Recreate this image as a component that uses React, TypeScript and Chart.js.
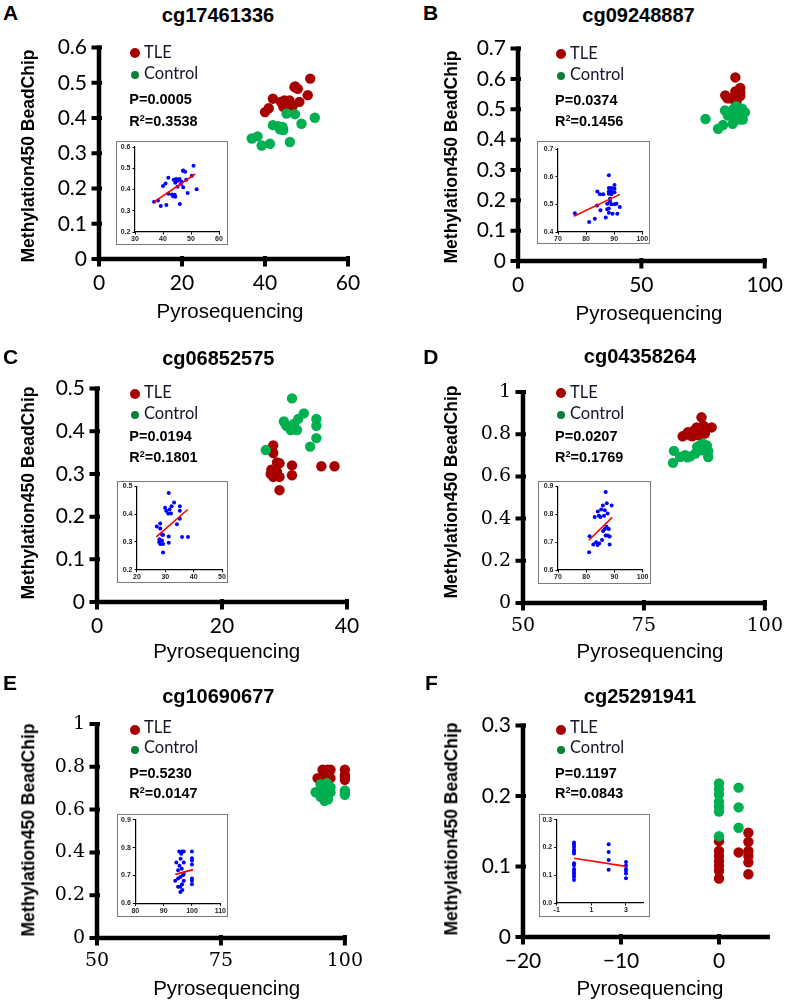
import React, { useEffect, useRef } from "react";
import { Chart, registerables } from "chart.js";

Chart.register(...registerables);

type Pt = [number, number];

// ---------- text content ----------
const letters = ["A", "B", "C", "D", "E", "F"];
const titles = ["cg17461336", "cg09248887", "cg06852575", "cg04358264", "cg10690677", "cg25291941"];
const pValues = ["0.0005", "0.0374", "0.0194", "0.0207", "0.5230", "0.1197"];
const r2Values = ["0.3538", "0.1456", "0.1801", "0.1769", "0.0147", "0.0843"];
const seriesNames = ["TLE", "Control"];
const xAxisTitle = "Pyrosequencing";
const yAxisTitle = "Methylation450 BeadChip";

// ---------- Panel A ----------
const tleA: Pt[] = [[40.0,0.417],[40.9,0.428],[41.9,0.455],[43.8,0.446],[44.4,0.432],[44.7,0.45],[45.3,0.441],[45.9,0.45],[46.4,0.426],[46.7,0.436],[47.1,0.488],[47.3,0.49],[47.9,0.483],[48.3,0.446],[50.3,0.465],[50.9,0.512]];
const ctlA: Pt[] = [[36.8,0.342],[38.2,0.348],[39.2,0.322],[41.2,0.327],[41.9,0.38],[43.2,0.377],[44.2,0.375],[44.4,0.366],[43.6,0.368],[45.2,0.413],[47.2,0.411],[46.0,0.332],[48.8,0.384],[52.0,0.401]];
const fitA: Pt[] = [[36.7,0.341],[51.5,0.473]];
const xTicksA = [0, 20, 40, 60];
const yTicksA = [0, 0.1, 0.2, 0.3, 0.4, 0.5, 0.6];
const xRangeA = [0, 60];
const yRangeA = [0, 0.6];
const insetXTicksA = [30, 40, 50, 60];
const insetYTicksA = [0.2, 0.3, 0.4, 0.5, 0.6];

// ---------- Panel B ----------
const tleB: Pt[] = [[84.0,0.546],[84.9,0.536],[86.1,0.536],[88.1,0.605],[88.1,0.559],[88.1,0.546],[88.1,0.538],[89.0,0.559],[89.0,0.546],[89.0,0.536],[90.1,0.57],[90.1,0.556],[90.1,0.544],[88.5,0.52]];
const ctlB: Pt[] = [[76.0,0.468],[81.1,0.436],[83.1,0.448],[85.1,0.479],[83.9,0.496],[87.0,0.452],[87.5,0.502],[89.0,0.5],[88.1,0.485],[88.1,0.47],[89.4,0.466],[90.1,0.5],[90.8,0.502],[91.1,0.466],[92.0,0.49],[87.5,0.482],[88.5,0.51]];
const fitB: Pt[] = [[75.6,0.457],[92.0,0.536]];
const xTicksB = [0, 50, 100];
const yTicksB = [0, 0.1, 0.2, 0.3, 0.4, 0.5, 0.6, 0.7];
const xRangeB = [0, 100];
const yRangeB = [0, 0.7];
const insetXTicksB = [70, 80, 90, 100];
const insetYTicksB = [0.4, 0.5, 0.6, 0.7];

// ---------- Panel C ----------
const tleC: Pt[] = [[28.2,0.367],[28.2,0.349],[27.9,0.31],[28.8,0.327],[29.2,0.325],[28.2,0.293],[29.2,0.293],[29.2,0.262],[31.2,0.32],[31.2,0.297],[27.8,0.3],[28.8,0.305],[35.9,0.318],[38.0,0.318]];
const ctlC: Pt[] = [[31.2,0.477],[29.9,0.423],[30.3,0.413],[31.0,0.403],[32.0,0.403],[32.2,0.429],[33.1,0.442],[35.1,0.429],[35.1,0.413],[35.1,0.384],[34.1,0.364],[27.0,0.356],[31.5,0.417]];
const fitC: Pt[] = [[26.8,0.318],[37.9,0.417]];
const xTicksC = [0, 20, 40];
const yTicksC = [0, 0.1, 0.2, 0.3, 0.4, 0.5];
const xRangeC = [0, 40];
const yRangeC = [0, 0.5];
const insetXTicksC = [20, 30, 40, 50];
const insetYTicksC = [0.2, 0.3, 0.4, 0.5];

// ---------- Panel D ----------
const tleD: Pt[] = [[83.0,0.79],[84.1,0.81],[85.3,0.817],[85.9,0.832],[86.9,0.88],[87.3,0.84],[89.0,0.832],[86.3,0.795],[85.0,0.79],[87.6,0.803],[84.5,0.795],[86.6,0.815]];
const ctlD: Pt[] = [[81.2,0.721],[81.0,0.664],[82.5,0.692],[83.5,0.7],[84.6,0.695],[85.6,0.708],[86.6,0.747],[88.0,0.747],[88.3,0.692],[87.6,0.724],[86.9,0.724],[86.0,0.74],[88.3,0.72],[84.0,0.69],[87.2,0.755]];
const fitD: Pt[] = [[80.9,0.707],[89.2,0.789]];
const xTicksD = [50, 75, 100];
const yTicksD = [0, 0.2, 0.4, 0.6, 0.8, 1];
const xRangeD = [50, 100];
const yRangeD = [0, 1];
const insetXTicksD = [70, 80, 90, 100];
const insetYTicksD = [0.6, 0.7, 0.8, 0.9];

// ---------- Panel E ----------
const tleE: Pt[] = [[95.5,0.786],[96.5,0.786],[97.1,0.786],[96.2,0.778],[94.5,0.747],[95.6,0.735],[97.1,0.747],[100,0.786],[100,0.762],[100,0.754],[100,0.739],[96.0,0.76]];
const ctlE: Pt[] = [[95.1,0.719],[96.4,0.724],[97.1,0.705],[94.1,0.681],[95.1,0.689],[95.9,0.695],[96.8,0.701],[97.1,0.681],[95.1,0.66],[95.9,0.66],[96.5,0.669],[95.9,0.641],[96.6,0.648],[100,0.689],[100,0.681],[100,0.669]];
const fitE: Pt[] = [[94.1,0.704],[100.4,0.721]];
const xTicksE = [50, 75, 100];
const yTicksE = [0, 0.2, 0.4, 0.6, 0.8, 1];
const xRangeE = [50, 100];
const yRangeE = [0, 1];
const insetXTicksE = [80, 90, 100, 110];
const insetYTicksE = [0.6, 0.7, 0.8, 0.9];

// ---------- Panel F ----------
const tleF: Pt[] = [[0,0.136],[0,0.122],[0,0.115],[0,0.108],[0,0.101],[0,0.094],[0,0.083],[2,0.12],[3,0.148],[3,0.135],[3,0.122],[3,0.115],[3,0.106],[3,0.089]];
const ctlF: Pt[] = [[0,0.218],[0,0.21],[0,0.202],[0,0.192],[0,0.185],[0,0.178],[0,0.143],[2,0.212],[2,0.184],[2,0.155]];
const fitF: Pt[] = [[0.0,0.161],[3.0,0.132]];
const xTicksF = [-20, -10, 0];
const yTicksF = [0, 0.1, 0.2, 0.3];
const xRangeF = [-20, 5];
const yRangeF = [0, 0.3];
const insetXTicksF = [-1, 1, 3];
const insetYTicksF = [0.0, 0.1, 0.2, 0.3];
const insetXRangeF = [-1, 4];

// ---------- styles ----------
const RED = "#A80000";
const GREEN = "#00B050";
const LEGEND_GREEN = "#0A7F36";
const BLUE = "#0000FF";
const FIT_RED = "#FF0000";
const ARIAL = "'Liberation Sans', Arial, sans-serif";
const LATO = "Lato, sans-serif";
const SERIF = "'DejaVu Serif', 'Liberation Serif', serif";

interface Layout {
  main: number[]; // L,T,R,B of plot area
  box: number[]; // inset box x,y,w,h
  inner: number[]; // inset plot area L,T,R,B
  letter: number[];
  title: number[];
  legend: number[]; // dotX, tleY, ctlY, textX, tleBase, ctlBase
  stats: number[]; // x, pBase, rBase
  xTitle: number[];
  yTitle: number[];
  serif: boolean;
}

const layouts: Layout[] = [
  { main: [99, 47, 348, 259], box: [116, 141, 112, 104], inner: [135, 147, 219, 232], letter: [3, 20], title: [218, 21.7],
    legend: [135, 53, 75, 144, 58.3, 80], stats: [129.3, 104, 126], xTitle: [230, 318], yTitle: [28.5, 156], serif: false },
  { main: [518, 48, 767, 261], box: [536.7, 141, 113.3, 103.3], inner: [557.7, 149, 642.3, 232.3], letter: [423, 20], title: [638.5, 21.7],
    legend: [560.5, 54, 76, 570, 59.3, 81], stats: [555, 105, 126.7], xTitle: [649, 320], yTitle: [451.5, 157], serif: false },
  { main: [97, 388, 347, 602], box: [116.7, 481, 111, 102.3], inner: [136.7, 485.7, 221.7, 570], letter: [3, 363.3], title: [218.3, 365],
    legend: [135, 393.5, 415, 144, 398.3, 419.3], stats: [129.3, 441.7, 462.3], xTitle: [226.7, 658.3], yTitle: [28.5, 492.5], serif: false },
  { main: [523, 392, 767, 603], box: [538.3, 480.7, 112.3, 103.3], inner: [558.3, 485, 645, 570], letter: [423.3, 363.3], title: [640, 363.3],
    legend: [560.5, 393.3, 415, 570, 398.3, 419.3], stats: [555, 441.7, 462.3], xTitle: [650, 658.3], yTitle: [451.5, 491.7], serif: true },
  { main: [97, 724, 347, 938], box: [116.7, 814.3, 111, 102.3], inner: [135, 820, 220, 904], letter: [3, 690], title: [218.3, 703.3],
    legend: [135, 730, 750, 144, 733.3, 754], stats: [129.3, 778.3, 798.3], xTitle: [226.7, 995], yTitle: [28.5, 830], serif: true },
  { main: [523, 725, 768, 937], box: [539, 814.3, 111, 103], inner: [556.7, 820, 643.3, 903.3], letter: [425, 690], title: [640, 703.3],
    legend: [560.5, 730, 750, 570, 733.3, 754], stats: [555, 778.3, 798.3], xTitle: [650, 995], yTitle: [451.5, 829], serif: false },
];

interface Panel {
  tle: Pt[]; ctl: Pt[]; fit: Pt[];
  xTicks: number[]; yTicks: number[]; xRange: number[]; yRange: number[];
  ixTicks: number[]; iyTicks: number[]; ixRange: number[]; iyRange: number[];
}

const rangeOf = (t: number[]) => [t[0], t[t.length - 1]];

const panels: Panel[] = [
  { tle: tleA, ctl: ctlA, fit: fitA, xTicks: xTicksA, yTicks: yTicksA, xRange: xRangeA, yRange: yRangeA, ixTicks: insetXTicksA, iyTicks: insetYTicksA, ixRange: rangeOf(insetXTicksA), iyRange: rangeOf(insetYTicksA) },
  { tle: tleB, ctl: ctlB, fit: fitB, xTicks: xTicksB, yTicks: yTicksB, xRange: xRangeB, yRange: yRangeB, ixTicks: insetXTicksB, iyTicks: insetYTicksB, ixRange: rangeOf(insetXTicksB), iyRange: rangeOf(insetYTicksB) },
  { tle: tleC, ctl: ctlC, fit: fitC, xTicks: xTicksC, yTicks: yTicksC, xRange: xRangeC, yRange: yRangeC, ixTicks: insetXTicksC, iyTicks: insetYTicksC, ixRange: rangeOf(insetXTicksC), iyRange: rangeOf(insetYTicksC) },
  { tle: tleD, ctl: ctlD, fit: fitD, xTicks: xTicksD, yTicks: yTicksD, xRange: xRangeD, yRange: yRangeD, ixTicks: insetXTicksD, iyTicks: insetYTicksD, ixRange: rangeOf(insetXTicksD), iyRange: rangeOf(insetYTicksD) },
  { tle: tleE, ctl: ctlE, fit: fitE, xTicks: xTicksE, yTicks: yTicksE, xRange: xRangeE, yRange: yRangeE, ixTicks: insetXTicksE, iyTicks: insetYTicksE, ixRange: rangeOf(insetXTicksE), iyRange: rangeOf(insetYTicksE) },
  { tle: tleF, ctl: ctlF, fit: fitF, xTicks: xTicksF, yTicks: yTicksF, xRange: xRangeF, yRange: yRangeF, ixTicks: insetXTicksF, iyTicks: insetYTicksF, ixRange: insetXRangeF, iyRange: rangeOf(insetYTicksF) },
];

const toXY = (pts: Pt[]) => pts.map(([x, y]) => ({ x, y }));
const fmtMain = (v: number) => (v < 0 ? "\u2212" + String(Math.abs(v)) : String(Math.round(v * 1000) / 1000));

// Draws the heavy axis lines and crossing tick marks from the chart's own scales.
const heavyAxes = {
  id: "heavyAxes",
  beforeDatasetsDraw(chart: any, _args: any, opts: any) {
    const { ctx, chartArea } = chart;
    const { left, right, top, bottom } = chartArea;
    const xs = chart.scales.x, ys = chart.scales.y;
    const lw = opts.lineWidth, tw = opts.tickWidth, out = opts.tickOut, inn = opts.tickIn;
    ctx.save();
    ctx.strokeStyle = "#000";
    ctx.lineCap = "butt";
    ctx.lineWidth = lw;
    ctx.beginPath();
    ctx.moveTo(left, top - tw / 2);
    ctx.lineTo(left, bottom + lw / 2);
    ctx.moveTo(left - lw / 2, bottom);
    ctx.lineTo(right + tw / 2, bottom);
    ctx.stroke();
    ctx.lineWidth = tw;
    ctx.beginPath();
    ys.ticks.forEach((t: any) => {
      const py = ys.getPixelForValue(t.value);
      ctx.moveTo(left - out, py);
      ctx.lineTo(left + inn, py);
    });
    xs.ticks.forEach((t: any) => {
      const px = xs.getPixelForValue(t.value);
      ctx.moveTo(px, bottom - inn);
      ctx.lineTo(px, bottom + out);
    });
    ctx.stroke();
    ctx.restore();
  },
};

function MainChart({ p, lay }: { p: Panel; lay: Layout }) {
  const ref = useRef<HTMLCanvasElement>(null);
  const [L, T, R, B] = lay.main;
  const YW = 70, PT = 16, PR = 20, XH = 50;
  const left = L - YW, top = T - PT;
  const w = Math.round(R - L + YW + PR), h = Math.round(B - T + PT + XH);
  useEffect(() => {
    const tickFont = lay.serif ? { family: SERIF, size: 19 } : { family: LATO, size: 21 };
    const grid = { display: true, drawOnChartArea: false, drawTicks: true, tickLength: 8, lineWidth: 1, color: "rgba(0,0,0,0)" };
    const border = { display: false };
    const chart = new Chart(ref.current!, {
      type: "scatter",
      data: {
        datasets: [
          { label: seriesNames[1], data: toXY(p.ctl), backgroundColor: GREEN, borderWidth: 0, pointRadius: 5.2, order: 0, clip: false },
          { label: seriesNames[0], data: toXY(p.tle), backgroundColor: RED, borderWidth: 0, pointRadius: 5.2, order: 1, clip: false },
        ],
      },
      plugins: [heavyAxes],
      options: {
        animation: false,
        responsive: false,
        events: [],
        layout: { padding: { left: 0, top: PT, right: PR, bottom: 0 } },
        plugins: {
          legend: { display: false },
          tooltip: { enabled: false },
          heavyAxes: { lineWidth: 4.5, tickWidth: 4, tickOut: 7.5, tickIn: 3 },
        },
        scales: {
          x: {
            type: "linear", position: "bottom", min: p.xRange[0], max: p.xRange[1],
            afterBuildTicks: (s: any) => { s.ticks = p.xTicks.map((v) => ({ value: v })); },
            afterFit: (s: any) => { s.height = XH; },
            ticks: { font: tickFont, color: "#000", padding: 4, maxRotation: 0, autoSkip: false, callback: (v: any) => fmtMain(Number(v)) },
            grid, border,
          },
          y: {
            type: "linear", position: "left", min: p.yRange[0], max: p.yRange[1],
            afterBuildTicks: (s: any) => { s.ticks = p.yTicks.map((v) => ({ value: v })); },
            afterFit: (s: any) => { s.width = YW; },
            ticks: { font: tickFont, color: "#000", padding: 4, autoSkip: false, callback: (v: any) => fmtMain(Number(v)) },
            grid, border,
          },
        },
      } as any,
    });
    return () => chart.destroy();
  }, [p, lay]);
  return <canvas ref={ref} width={w} height={h} style={{ position: "absolute", left, top, width: w, height: h }} />;
}

function InsetChart({ p, lay }: { p: Panel; lay: Layout }) {
  const ref = useRef<HTMLCanvasElement>(null);
  const [bx, by, bw, bh] = lay.box;
  const [L, T, R, B] = lay.inner;
  const YW = L - bx, PT = T - by, PR = bx + bw - R, XH = by + bh - B;
  const w = Math.round(bw), h = Math.round(bh);
  useEffect(() => {
    const font = { family: ARIAL, size: 7, weight: "bold" as const, lineHeight: 1 };
    const grid = { drawOnChartArea: false, drawTicks: true, tickLength: 2.5, lineWidth: 1, color: "#000" };
    const border = { display: true, width: 1.2, color: "#000" };
    const all = [...p.tle, ...p.ctl];
    const chart = new Chart(ref.current!, {
      type: "scatter",
      data: {
        datasets: [
          { data: toXY(p.fit), showLine: true, borderColor: FIT_RED, borderWidth: 1.6, pointRadius: 0, order: 0, clip: false },
          { data: toXY(all), backgroundColor: BLUE, borderWidth: 0, pointRadius: 2, order: 1, clip: false },
        ],
      },
      options: {
        animation: false,
        responsive: false,
        events: [],
        layout: { padding: { left: 0, top: PT, right: PR, bottom: 0 } },
        plugins: { legend: { display: false }, tooltip: { enabled: false } },
        scales: {
          x: {
            type: "linear", position: "bottom", min: p.ixRange[0], max: p.ixRange[1],
            afterBuildTicks: (s: any) => { s.ticks = p.ixTicks.map((v) => ({ value: v })); },
            afterFit: (s: any) => { s.height = XH; },
            ticks: { font, color: "#222", padding: 1.5, maxRotation: 0, autoSkip: false, callback: (v: any) => String(v) },
            grid, border,
          },
          y: {
            type: "linear", position: "left", min: p.iyRange[0], max: p.iyRange[1],
            afterBuildTicks: (s: any) => { s.ticks = p.iyTicks.map((v) => ({ value: v })); },
            afterFit: (s: any) => { s.width = YW; },
            ticks: { font, color: "#222", padding: 2, autoSkip: false, callback: (v: any) => Number(v).toFixed(1) },
            grid, border,
          },
        },
      } as any,
    });
    return () => chart.destroy();
  }, [p, lay]);
  return (
    <>
      <div style={{ position: "absolute", left: bx, top: by, width: bw, height: bh, background: "#fff" }} />
      <canvas ref={ref} width={w} height={h} style={{ position: "absolute", left: bx, top: by, width: w, height: h }} />
      <div style={{ position: "absolute", left: bx, top: by, width: bw, height: bh, border: "1px solid #7a7a7a", boxSizing: "border-box", pointerEvents: "none" }} />
    </>
  );
}

function Txt({ x, base, size, family = ARIAL, weight = 400, align = "left", color = "#000", children }: any) {
  const asc = family === LATO ? 0.887 : 0.8465;
  return (
    <div
      style={{
        position: "absolute", left: x, top: base - asc * size, fontSize: size, lineHeight: `${size}px`,
        fontFamily: family, fontWeight: weight, whiteSpace: "nowrap", color,
        transform: align === "center" ? "translateX(-50%)" : undefined,
      }}
    >
      {children}
    </div>
  );
}

function PanelView({ i }: { i: number }) {
  const lay = layouts[i];
  const p = panels[i];
  const [dotX, tleY, ctlY, textX, tleBase, ctlBase] = lay.legend;
  return (
    <>
      <MainChart p={p} lay={lay} />
      <InsetChart p={p} lay={lay} />
      <Txt x={lay.letter[0]} base={lay.letter[1]} size={21} weight={700}>{letters[i]}</Txt>
      <Txt x={lay.title[0]} base={lay.title[1]} size={20} weight={700} align="center">{titles[i]}</Txt>
      <div style={{ position: "absolute", left: dotX - 5, top: tleY - 5, width: 10, height: 10, borderRadius: "50%", background: RED }} />
      <div style={{ position: "absolute", left: dotX - 4, top: ctlY - 4, width: 8, height: 8, borderRadius: "50%", background: LEGEND_GREEN }} />
      <Txt x={textX} base={tleBase} size={16.5} family={LATO} color="#15152a">{seriesNames[0]}</Txt>
      <Txt x={textX} base={ctlBase} size={16.5} family={LATO} color="#15152a">{seriesNames[1]}</Txt>
      <Txt x={lay.stats[0]} base={lay.stats[1]} size={14.5} weight={700}>P={pValues[i]}</Txt>
      <Txt x={lay.stats[0]} base={lay.stats[2]} size={14.5} weight={700}>
        R<span style={{ fontSize: "0.62em", position: "relative", top: "-0.55em" }}>2</span>={r2Values[i]}
      </Txt>
      <Txt x={lay.xTitle[0]} base={lay.xTitle[1]} size={20.5} align="center">{xAxisTitle}</Txt>
      <div
        style={{
          position: "absolute", left: lay.yTitle[0], top: lay.yTitle[1], transform: "translate(-50%,-50%) rotate(-90deg)",
          fontSize: 17.5, lineHeight: "17.5px", fontWeight: 700, fontFamily: ARIAL, whiteSpace: "nowrap", color: "#000",
        }}
      >
        {yAxisTitle}
      </div>
    </>
  );
}

export default function App() {
  return (
    <div style={{ position: "absolute", left: 0, top: 0, width: 787, height: 1005, background: "#fff", overflow: "hidden" }}>
      {panels.map((_, i) => (
        <PanelView key={i} i={i} />
      ))}
    </div>
  );
}
